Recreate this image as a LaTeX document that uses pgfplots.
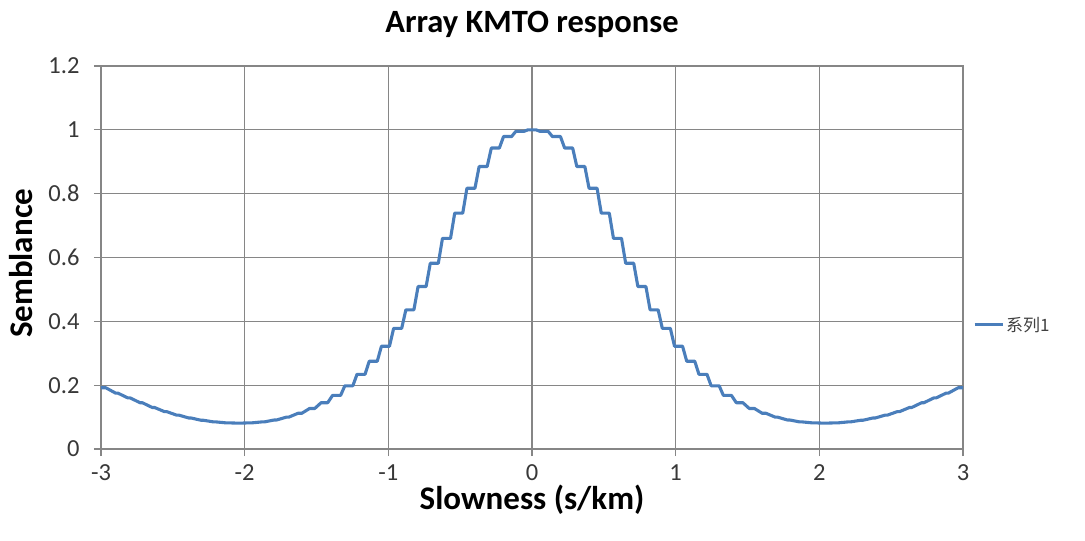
\documentclass[border=0pt]{standalone}
\usepackage{pgfplots}
\pgfplotsset{compat=1.18}
\usepackage{fontspec}
\setmainfont{Carlito}
\newfontfamily\cjk{Noto Sans CJK SC}
\definecolor{excelblue}{RGB}{74,126,187}
\definecolor{gridgray}{RGB}{134,134,134}
\begin{document}
\begin{tikzpicture}
\path[use as bounding box] (-101pt,-92pt) rectangle (984pt,449pt);
\begin{axis}[
  scale only axis,
  width=862pt, height=383pt,
  xmin=-3, xmax=3, ymin=0, ymax=1.2,
  xtick={-3,-2,-1,0,1,2,3},
  xticklabels={-3,-2,-1,0,1,2,3},
  ytick={0,0.2,0.4,0.6,0.8,1,1.2},
  yticklabels={0,0.2,0.4,0.6,0.8,1,1.2},
  xtick pos=bottom, ytick pos=left,
  grid=major,
  major grid style={gridgray, line width=1.3pt},
  axis line style={gridgray, line width=1.3pt},
  tick style={gridgray, line width=1.3pt},
  tick align=outside,
  major tick length=7pt,
  ticklabel style={font=\fontsize{24.5}{28}\selectfont, text=black!78},
  xticklabel style={yshift=-5pt},
  yticklabel style={xshift=-11pt},
  title={Array KMTO response},
  title style={font=\fontsize{32.5}{38}\selectfont\bfseries, at={(axis description cs:0.5,1.071)}, anchor=base},
  xlabel={Slowness (s/km)},
  xlabel style={font=\fontsize{33}{38}\selectfont\bfseries, at={(axis description cs:0.5,-0.159)}, anchor=base},
  ylabel={Semblance},
  ylabel style={font=\fontsize{33}{38}\selectfont\bfseries, at={(axis description cs:-0.079,0.485)}, anchor=base, rotate=0},
  legend style={draw=none, fill=none, at={(axis description cs:1.008,0.324)}, anchor=west, font=\cjk\fontsize{17}{19}\selectfont, text=black!75},
  legend image code/.code={\draw[#1] (0pt,0pt) -- (28pt,0pt);},
]
\addplot[excelblue, line width=3.1pt, line join=round] coordinates {
(-3.0,0.192) (-2.967,0.192)
(-2.898,0.175) (-2.882,0.175)
(-2.813,0.160) (-2.797,0.160)
(-2.728,0.145) (-2.712,0.145)
(-2.643,0.130) (-2.627,0.130)
(-2.558,0.117) (-2.542,0.117)
(-2.473,0.106) (-2.457,0.106)
(-2.388,0.097) (-2.372,0.097)
(-2.303,0.090) (-2.287,0.090)
(-2.218,0.085) (-2.202,0.085)
(-2.133,0.082) (-2.117,0.082)
(-2.048,0.081) (-2.032,0.081)
(-1.963,0.082) (-1.947,0.082)
(-1.878,0.085) (-1.862,0.085)
(-1.793,0.091) (-1.777,0.091)
(-1.708,0.100) (-1.692,0.100)
(-1.628,0.112) (-1.602,0.112)
(-1.548,0.127) (-1.512,0.127)
(-1.468,0.145) (-1.422,0.145)
(-1.388,0.168) (-1.332,0.168)
(-1.303,0.198) (-1.247,0.198)
(-1.218,0.234) (-1.162,0.234)
(-1.133,0.275) (-1.077,0.275)
(-1.048,0.322) (-0.992,0.322)
(-0.963,0.378) (-0.907,0.378)
(-0.878,0.436) (-0.822,0.436)
(-0.793,0.509) (-0.737,0.509)
(-0.708,0.582) (-0.652,0.582)
(-0.623,0.660) (-0.567,0.660)
(-0.538,0.739) (-0.482,0.739)
(-0.453,0.817) (-0.397,0.817)
(-0.368,0.885) (-0.312,0.885)
(-0.283,0.943) (-0.227,0.943)
(-0.198,0.979) (-0.142,0.979)
(-0.113,0.995) (-0.057,0.995)
(-0.028,1.000) (0.028,1.000)
(0.057,0.995) (0.113,0.995)
(0.142,0.979) (0.198,0.979)
(0.227,0.943) (0.283,0.943)
(0.312,0.885) (0.368,0.885)
(0.397,0.817) (0.453,0.817)
(0.482,0.739) (0.538,0.739)
(0.567,0.660) (0.623,0.660)
(0.652,0.582) (0.708,0.582)
(0.737,0.509) (0.793,0.509)
(0.822,0.436) (0.878,0.436)
(0.907,0.378) (0.963,0.378)
(0.992,0.322) (1.048,0.322)
(1.077,0.275) (1.133,0.275)
(1.162,0.234) (1.218,0.234)
(1.247,0.198) (1.303,0.198)
(1.332,0.168) (1.388,0.168)
(1.422,0.145) (1.468,0.145)
(1.512,0.127) (1.548,0.127)
(1.602,0.112) (1.628,0.112)
(1.692,0.100) (1.708,0.100)
(1.777,0.091) (1.793,0.091)
(1.862,0.085) (1.878,0.085)
(1.947,0.082) (1.963,0.082)
(2.032,0.081) (2.048,0.081)
(2.117,0.082) (2.133,0.082)
(2.202,0.085) (2.218,0.085)
(2.287,0.090) (2.303,0.090)
(2.372,0.097) (2.388,0.097)
(2.457,0.106) (2.473,0.106)
(2.542,0.117) (2.558,0.117)
(2.627,0.130) (2.643,0.130)
(2.712,0.145) (2.728,0.145)
(2.797,0.160) (2.813,0.160)
(2.882,0.175) (2.898,0.175)
(2.967,0.192) (3.0,0.192)
};
\addlegendentry{系列1}
\end{axis}
\end{tikzpicture}
\end{document}
